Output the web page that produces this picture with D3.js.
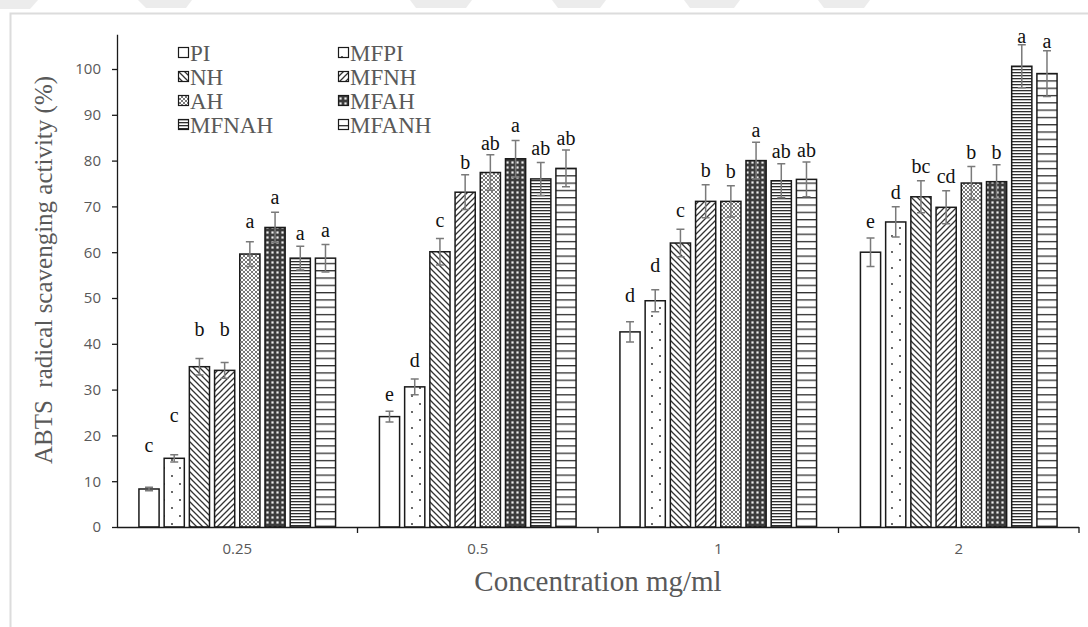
<!DOCTYPE html>
<html>
<head>
<meta charset="utf-8">
<script src="https://cdn.jsdelivr.net/npm/d3@7"></script>
<style>
  html, body { margin: 0; padding: 0; background: #fff; }
  svg { display: block; }
</style>
</head>
<body>
<svg id="chart" width="1088" height="627"></svg>
<script>
// ABTS radical scavenging activity by concentration and sample
const concentrations = ["0.25", "0.5", "1", "2"];
const samples = ["PI", "MFPI", "NH", "MFNH", "AH", "MFAH", "MFNAH", "MFANH"];

// mean activity (%) per concentration, in sample order
const mean025 = [8.3, 15.0, 35.0, 34.2, 59.6, 65.4, 58.7, 58.7];
const mean05  = [24.1, 30.6, 60.1, 73.1, 77.4, 80.4, 76.0, 78.3];
const mean1   = [42.6, 49.4, 62.0, 71.1, 71.1, 80.0, 75.6, 75.9];
const mean2   = [60.0, 66.6, 72.1, 69.8, 75.1, 75.4, 100.6, 99.0];

// standard deviation per concentration
const sd025 = [0.4, 0.8, 1.8, 1.7, 2.7, 3.3, 2.6, 3.0];
const sd05  = [1.2, 1.7, 2.9, 3.8, 3.9, 4.0, 3.6, 4.0];
const sd1   = [2.2, 2.4, 3.0, 3.6, 3.4, 4.0, 3.7, 3.8];
const sd2   = [3.1, 3.3, 3.5, 3.6, 3.6, 3.7, 4.7, 5.0];

// significance letters per concentration
const sig025 = ["c", "c", "b", "b", "a", "a", "a", "a"];
const sig05  = ["e", "d", "c", "b", "ab", "a", "ab", "ab"];
const sig1   = ["d", "d", "c", "b", "b", "a", "ab", "ab"];
const sig2   = ["e", "d", "bc", "cd", "b", "b", "a", "a"];

const yTicks = [0, 10, 20, 30, 40, 50, 60, 70, 80, 90, 100];
const yMax = 107.5;

const means = [mean025, mean05, mean1, mean2];
const sds = [sd025, sd05, sd1, sd2];
const sigs = [sig025, sig05, sig1, sig2];

// layout: pixel gap between error cap and its letter
const letterGap = [
  [35, 33, 22, 27, 14, 8, 6, 7],
  [10, 12, 11, 6, 5, 8, 7, 5],
  [20, 18, 12, 8, 8, 5, 6, 5],
  [10, 8, 8, 8, 8, 6, 2, 3]
];

const svg = d3.select("#chart");
const W = 1088, H = 627;
const plot = { left: 117, right: 1079, bottom: 527 };
const pxPerUnit = 4.58;
plot.top = plot.bottom - yMax * pxPerUnit;

const gray = "#595959";
const serif = "'Liberation Serif', 'Times New Roman', serif";
const sans = "'Open Sans', 'Liberation Sans', sans-serif";

// faint banner shapes along the top edge
const banner = [
  [[0, 0], [38, 0], [30, 9], [0, 9]],
  [[138, 0], [192, 0], [186, 8], [146, 8]],
  [[410, 0], [472, 0], [466, 8], [416, 8]],
  [[552, 0], [606, 0], [600, 8], [558, 8]],
  [[684, 0], [740, 0], [734, 8], [690, 8]],
  [[818, 0], [870, 0], [864, 8], [824, 8]]
];
svg.append("g").selectAll("path").data(banner).join("path")
  .attr("d", d => "M" + d.map(p => p.join(",")).join("L") + "Z")
  .attr("fill", "#ececec");

// chart area border
svg.append("rect")
  .attr("x", 10.5).attr("y", 13.5)
  .attr("width", W + 20).attr("height", H + 20)
  .attr("fill", "none").attr("stroke", "#dcdcdc").attr("stroke-width", 2);

// fill patterns
const defs = svg.append("defs");
function pattern(id, w, h, draw) {
  const p = defs.append("pattern").attr("id", id)
    .attr("patternUnits", "userSpaceOnUse").attr("width", w).attr("height", h);
  draw(p);
}
pattern("p-PI", 8, 8, p => p.append("rect").attr("width", 8).attr("height", 8).attr("fill", "#fff"));
pattern("p-MFPI", 16, 16, p => {
  p.append("rect").attr("width", 16).attr("height", 16).attr("fill", "#fff");
  p.append("circle").attr("cx", 4).attr("cy", 4).attr("r", 0.9).attr("fill", "#222");
  p.append("circle").attr("cx", 12).attr("cy", 12).attr("r", 0.9).attr("fill", "#222");
});
pattern("p-NH", 6, 6, p => {
  p.append("rect").attr("width", 6).attr("height", 6).attr("fill", "#fff");
  p.append("path").attr("d", "M0,0L6,6M-1,5L1,7M5,-1L7,1")
    .attr("stroke", "#333").attr("stroke-width", 1.3);
});
pattern("p-MFNH", 6, 6, p => {
  p.append("rect").attr("width", 6).attr("height", 6).attr("fill", "#fff");
  p.append("path").attr("d", "M0,6L6,0M-1,1L1,-1M5,7L7,5")
    .attr("stroke", "#333").attr("stroke-width", 1.3);
});
pattern("p-AH", 4, 4, p => {
  p.append("rect").attr("width", 4).attr("height", 4).attr("fill", "#fff");
  p.append("path").attr("d", "M0,0L4,4M0,4L4,0")
    .attr("stroke", "#6a6a6a").attr("stroke-width", 0.9);
});
pattern("p-MFAH", 5, 5, p => {
  p.append("rect").attr("width", 5).attr("height", 5).attr("fill", "#3c3c3c");
  p.append("rect").attr("x", 1.4).attr("y", 1.4).attr("width", 2.2).attr("height", 2.2).attr("fill", "#eeeeee");
});
pattern("p-MFNAH", 4, 3, p => {
  p.append("rect").attr("width", 4).attr("height", 3).attr("fill", "#fff");
  p.append("rect").attr("y", 0).attr("width", 4).attr("height", 1.3).attr("fill", "#2e2e2e");
});
pattern("p-MFANH", 4, 7.3, p => {
  p.append("rect").attr("width", 4).attr("height", 7.3).attr("fill", "#fff");
  p.append("rect").attr("y", 0).attr("width", 4).attr("height", 1.3).attr("fill", "#2e2e2e");
});

// scales
const x0 = d3.scaleBand().domain(concentrations).range([plot.left, plot.right]).padding(0);
const x1 = d3.scaleBand().domain(samples).range([0, x0.bandwidth()])
  .paddingInner(0.2).paddingOuter(0.87);
const y = d3.scaleLinear().domain([0, yMax]).range([plot.bottom, plot.top]);

// bars
const rows = [];
concentrations.forEach((c, gi) => {
  samples.forEach((s, si) => {
    rows.push({ c, s, gi, si, v: means[gi][si], sd: sds[gi][si], sig: sigs[gi][si] });
  });
});

const bars = svg.append("g");
bars.selectAll("rect").data(rows).join("rect")
  .attr("x", d => x0(d.c) + x1(d.s))
  .attr("y", d => y(d.v))
  .attr("width", x1.bandwidth())
  .attr("height", d => y(0) - y(d.v))
  .attr("fill", d => `url(#p-${d.s})`)
  .attr("stroke", "#1a1a1a").attr("stroke-width", 1.5);

// error bars
const errs = svg.append("g").attr("stroke", "#7a7a7a").attr("stroke-width", 1.5).attr("fill", "none");
errs.selectAll("path").data(rows).join("path")
  .attr("d", d => {
    const cx = x0(d.c) + x1(d.s) + x1.bandwidth() / 2;
    const t = y(d.v + d.sd), b = y(d.v - d.sd), w = 4;
    return `M${cx},${t}V${b}M${cx - w},${t}H${cx + w}M${cx - w},${b}H${cx + w}`;
  });

// significance letters
svg.append("g").selectAll("text").data(rows).join("text")
  .attr("x", d => x0(d.c) + x1(d.s) + x1.bandwidth() / 2)
  .attr("y", d => y(d.v + d.sd) - letterGap[d.gi][d.si])
  .attr("text-anchor", "middle")
  .attr("font-family", serif).attr("font-size", 20).attr("fill", "#111")
  .text(d => d.sig);

// y axis
const yAxis = svg.append("g").attr("transform", `translate(${plot.left},0)`)
  .call(d3.axisLeft(y).tickValues(yTicks).tickSize(5).tickPadding(11).tickSizeOuter(0));
yAxis.select(".domain").attr("stroke", "#1a1a1a").attr("stroke-width", 1.3)
  .attr("d", `M0.5,${plot.top}V${plot.bottom}`);
yAxis.selectAll(".tick line").attr("stroke", "#1a1a1a").attr("stroke-width", 1.3);
yAxis.selectAll(".tick text").attr("font-family", sans).attr("font-size", 15).attr("fill", gray);

// x axis
const xAxis = svg.append("g").attr("transform", `translate(0,${plot.bottom})`)
  .call(d3.axisBottom(x0).tickSize(0).tickPadding(16));
xAxis.select(".domain").attr("stroke", "#1a1a1a").attr("stroke-width", 1.3)
  .attr("d", `M${plot.left},0.5H${plot.right}`);
xAxis.selectAll(".tick text").attr("font-family", sans).attr("font-size", 15).attr("fill", gray);
xAxis.selectAll("line.sep").data(concentrations).join("line").attr("class", "sep")
  .attr("x1", d => x0(d) + x0.bandwidth()).attr("x2", d => x0(d) + x0.bandwidth())
  .attr("y1", 0).attr("y2", 6)
  .attr("stroke", "#1a1a1a").attr("stroke-width", 1.3);

// axis titles
svg.append("text")
  .attr("transform", "translate(52,270) rotate(-90)")
  .attr("text-anchor", "middle")
  .attr("font-family", serif).attr("font-size", 25).attr("fill", gray)
  .attr("xml:space", "preserve")
  .text("ABTS  radical scavenging activity (%)");
svg.append("text")
  .attr("x", 598).attr("y", 591)
  .attr("text-anchor", "middle")
  .attr("font-family", serif).attr("font-size", 29).attr("fill", gray)
  .text("Concentration mg/ml");

// legend
const legend = svg.append("g").attr("transform", "translate(178,53)");
const legItems = legend.selectAll("g").data(samples).join("g")
  .attr("transform", (d, i) => `translate(${(i % 2) * 160},${Math.floor(i / 2) * 24})`);
legItems.append("rect")
  .attr("x", 0.5).attr("y", -5.5).attr("width", 10).attr("height", 10)
  .attr("fill", d => `url(#p-${d})`)
  .attr("stroke", "#1a1a1a").attr("stroke-width", 1.2);
legItems.append("text")
  .attr("x", 12).attr("y", 7.5)
  .attr("font-family", serif).attr("font-size", 23).attr("fill", gray)
  .text(d => d);
</script>
</body>
</html>
